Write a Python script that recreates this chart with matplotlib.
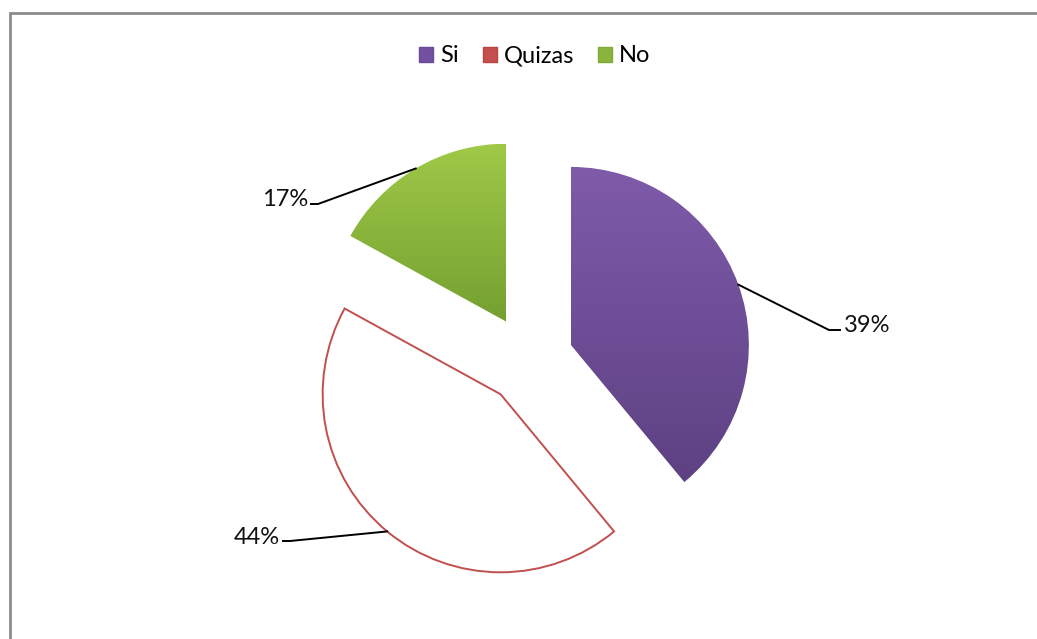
import numpy as np
import matplotlib
matplotlib.use("Agg")
import matplotlib.pyplot as plt
from matplotlib.patches import Patch, Rectangle
from matplotlib.colors import LinearSegmentedColormap

labels = ["Si", "Quizas", "No"]
shares = [39, 44, 17]
pct_labels = ["39%", "44%", "17%"]

plt.rcParams['font.family'] = ['Lato', 'DejaVu Sans']

W, H = 1037, 639
fig = plt.figure(figsize=(W / 100, H / 100), dpi=100)
ax = fig.add_axes([0, 0, 1, 1])

cx, cy, R = 529, H - 360, 178
# pie's explode is in data units, not a fraction of the radius
wedges, _ = ax.pie(shares, startangle=90, counterclock=False,
                   explode=[0.25 * R] * 3, radius=R, center=(cx, cy),
                   colors=['none', 'white', 'none'],
                   wedgeprops=dict(linewidth=0))

# Quizas: white with red outline
wedges[1].set_edgecolor('#c0504d')
wedges[1].set_linewidth(1.4)

# vertical gradients for Si and No
grads = {0: ('#7f5bab', '#5d4182'), 2: ('#9fc947', '#74a031')}
for i, (top, bot) in grads.items():
    w = wedges[i]
    ext = w.get_path().get_extents()
    cmap = LinearSegmentedColormap.from_list('g%d' % i, [bot, top])
    img = np.linspace(0, 1, 256)[:, None]
    im = ax.imshow(img, cmap=cmap, origin='lower', aspect='auto',
                   extent=(ext.x0, ext.x1, ext.y0, ext.y1), zorder=1)
    im.set_clip_path(w)

# leader lines and labels: anchor at mid-angle on the arc
label_pos = {0: (829, H - 330, 'left'), 1: (290, H - 541, 'right'),
             2: (318, H - 204, 'right')}
for i, w in enumerate(wedges):
    mid = np.deg2rad((w.theta1 + w.theta2) / 2)
    ax_, ay_ = w.center[0] + w.r * np.cos(mid), w.center[1] + w.r * np.sin(mid)
    ex, ey, ha = label_pos[i]
    hx = ex + 11 if ha == 'left' else ex - 7
    ax.plot([ax_, ex, hx], [ay_, ey, ey], color='black', lw=1.4, zorder=3)
    tx = hx + 4 if ha == 'left' else hx - 3
    ax.text(tx, ey + 4, pct_labels[i], ha=ha, va='center', fontsize=17,
            color='#111111')

ax.set_xlim(0, W)
ax.set_ylim(0, H)
ax.set_axis_off()

# outer border (only top and left visible)
fig.patches.append(Rectangle((10 / W, -0.1), 1.2, (H - 13) / H + 0.1,
                             transform=fig.transFigure, fill=False,
                             edgecolor='#8c8c8c', linewidth=2))

handles = [Patch(facecolor='#7252a0', edgecolor='#6a4a98'),
           Patch(facecolor='#c4504d', edgecolor='#b84542'),
           Patch(facecolor='#8ab43e', edgecolor='#80aa38')]
fig.legend(handles, labels, loc='center', bbox_to_anchor=(535 / W, 1 - 56 / H),
           ncol=3, frameon=False, fontsize=17, handlelength=0.6,
           handleheight=0.6, handletextpad=0.3, columnspacing=1.0)

fig.savefig('out.png', dpi=100)
